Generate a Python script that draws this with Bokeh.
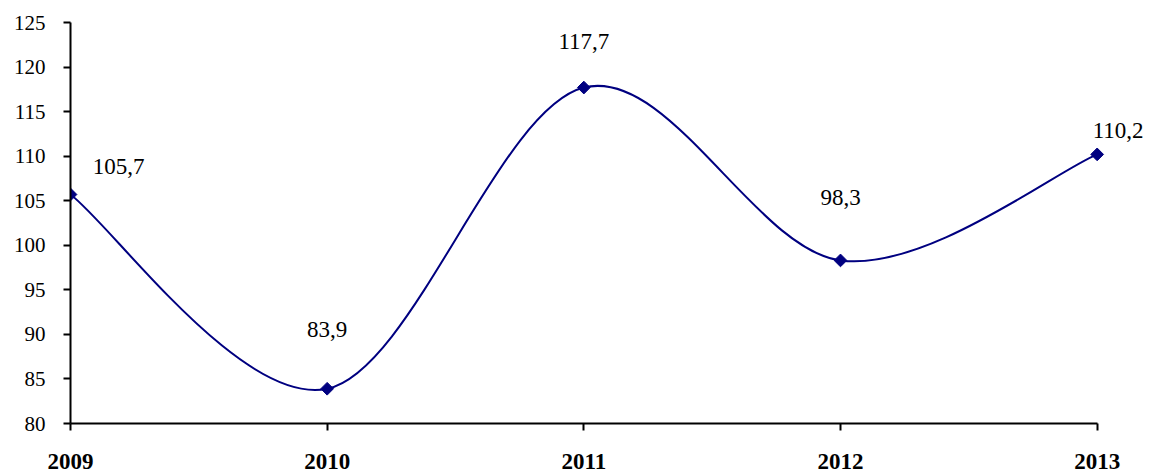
import numpy as np
from bokeh.plotting import figure
from bokeh.models import ColumnDataSource, FixedTicker, Label
from bokeh.embed import file_html
from bokeh.resources import INLINE

years = ["2009", "2010", "2011", "2012", "2013"]
values = [105.7, 83.9, 117.7, 98.3, 110.2]
y_ticks = [80, 85, 90, 95, 100, 105, 110, 115, 120, 125]

# label placement offsets in screen pixels (style only; positive dy = up)
label_dx = [48, 0, 0, 0, 21]
label_dy = [28, 59, 46, 63, 24]

NAVY = "#000080"
FONT = "Liberation Serif"

xs = np.arange(len(years), dtype=float)
ys = np.array(values, dtype=float)
x_last = float(len(years) - 1)

# frame extends a little past the last category so the last data label is not clipped;
# the x axis line itself is bounded to the categories
p = figure(width=1149, height=474, output_backend="svg", toolbar_location=None,
           x_range=(0, x_last + 0.2), y_range=(80, 125),
           min_border_left=70, min_border_right=1, min_border_top=22, min_border_bottom=51)
p.outline_line_color = None
p.xgrid.visible = False
p.ygrid.visible = False
p.background_fill_color = "white"
p.border_fill_color = "white"

# smoothed line (Catmull-Rom style Bezier segments, as in spreadsheet smoothing)
px = np.concatenate([[xs[0]], xs, [xs[-1]]])
py = np.concatenate([[ys[0]], ys, [ys[-1]]])
x0 = xs[:-1]; y0 = ys[:-1]; x1 = xs[1:]; y1 = ys[1:]
cx0 = px[1:-2] + (px[2:-1] - px[0:-3]) / 6
cy0 = py[1:-2] + (py[2:-1] - py[0:-3]) / 6
cx1 = px[2:-1] - (px[3:] - px[1:-2]) / 6
cy1 = py[2:-1] - (py[3:] - py[1:-2]) / 6
p.bezier(x0=x0, y0=y0, x1=x1, y1=y1, cx0=cx0, cy0=cy0, cx1=cx1, cy1=cy1,
         line_color=NAVY, line_width=2)

src = ColumnDataSource(dict(x=xs, y=ys))
p.scatter("x", "y", source=src, marker="square", angle=np.pi / 4, size=9,
          fill_color=NAVY, line_color=NAVY)

for xi, v, dx, dy in zip(xs, values, label_dx, label_dy):
    p.add_layout(Label(x=float(xi), y=v, text=f"{v:.1f}".replace(".", ","),
                       x_offset=dx, y_offset=dy,
                       text_font=FONT, text_font_size="23px", text_color="black",
                       text_align="center", text_baseline="middle"))

for ax in (p.xaxis[0], p.yaxis[0]):
    ax.axis_line_color = "black"
    ax.axis_line_width = 2
    ax.major_tick_line_color = "black"
    ax.major_tick_line_width = 2
    ax.major_tick_out = 7
    ax.major_tick_in = 0
    ax.minor_tick_line_color = None
    ax.major_label_text_font = FONT
    ax.major_label_text_color = "black"

p.yaxis.ticker = FixedTicker(ticks=y_ticks)
p.yaxis.major_label_text_font_size = "21px"
p.yaxis.major_label_standoff = 18
p.xaxis.bounds = (0, x_last)
p.xaxis.ticker = FixedTicker(ticks=list(xs))
p.xaxis.major_label_overrides = {i: y for i, y in enumerate(years)}
p.xaxis.major_label_text_font_size = "23px"
p.xaxis.major_label_text_font_style = "bold"
p.xaxis.major_label_standoff = 23

open("out.html", "w").write(file_html(p, INLINE))
